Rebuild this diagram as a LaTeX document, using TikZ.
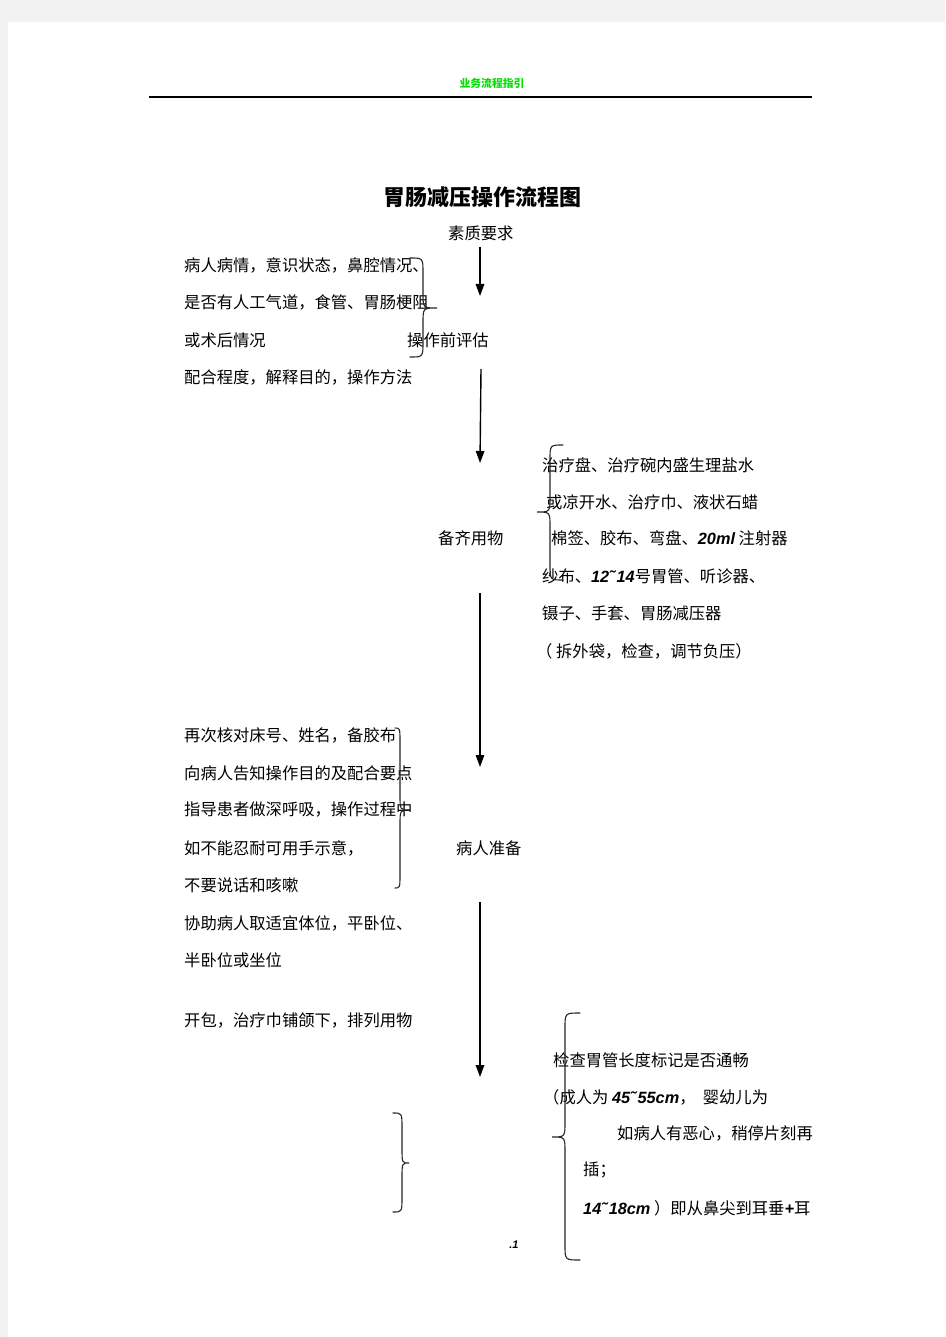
\documentclass[tikz,border=0pt]{standalone}
\usepackage{fontspec}
\setmainfont{Noto Sans CJK SC}
\newfontfamily\numfont{Liberation Sans}
\usetikzlibrary{arrows.meta}
\definecolor{hdrgreen}{RGB}{0,225,0}
\definecolor{pagegray}{RGB}{242,242,242}
\newcommand{\nm}[1]{{\numfont\bfseries\itshape #1}}
\newcommand{\tld}{{\char"02DC\relax}\kern2pt\relax}
\tikzset{
  txt/.style={anchor=west, inner sep=0pt, font=\fontsize{16.3}{18}\selectfont},
  flowarrow/.style={line width=1.4pt, -{Triangle[length=12pt,width=8.5pt]}},
  bracestroke/.style={line width=1.1pt, draw=black!85, line cap=round}
}
\newcommand{\bracegen}[6]{% x0 xv xt ytop ymid ybot
  \draw[bracestroke] (#1,#4) .. controls (#2,#4) .. (#2,#4+15)
    -- (#2,#5-15) .. controls (#2,#5) .. (#3,#5)
    .. controls (#2,#5) .. (#2,#5+15)
    -- (#2,#6-15) .. controls (#2,#6) .. (#1,#6);}
\begin{document}
\begin{tikzpicture}[x=1pt,y=-1pt]
\useasboundingbox (0,0) rectangle (945,1337);
\fill[pagegray] (0,0) rectangle (945,1337);
\fill[white] (8,22) rectangle (945,1337);
% header
\node[inner sep=0pt, text=hdrgreen, font=\fontsize{10.8}{12}\selectfont\bfseries] (hdr) at (492,83) {业务流程指引};
\coordinate (ruleL) at (149,97);
\coordinate (ruleR) at (812,97);
\draw[line width=1.2pt] (ruleL) -- (ruleR);
% title
\node[inner sep=0pt, font=\fontsize{22}{24}\selectfont\bfseries] (title) at (482,197) {胃肠减压操作流程图};
% step 1
\node[txt] (s1) at (448,233) {素质要求};
\coordinate (a1s) at (480,247);
\coordinate (a1e) at (480,296);
\draw[flowarrow] (a1s) -- (a1e);
% left block 1
\node[txt] (l1) at (184,265) {病人病情，意识状态，鼻腔情况、};
\node[txt] (l2) at (184,302) {是否有人工气道，食管、胃肠梗阻};
\node[txt] (l3) at (184,340) {或术后情况};
\node[txt] (l4) at (184,377) {配合程度，解释目的，操作方法};
\node[txt] (s2) at (407,340) {操作前评估};
\bracegen{410}{423}{437}{258}{308}{357}
% arrow 2
\coordinate (a2s) at (481,369);
\coordinate (a2e) at (480,463);
\draw[flowarrow] (a2s) -- (a2e);
% right block 2
\node[txt] (r1) at (542,465) {治疗盘、治疗碗内盛生理盐水};
\node[txt] (r2) at (546,502) {或凉开水、治疗巾、液状石蜡};
\node[txt] (r3) at (551,538) {棉签、胶布、弯盘、\nm{20ml} 注射器};
\node[txt] (r4) at (542,576) {纱布、\nm{12\tld 14}号胃管、听诊器、};
\node[txt] (r5) at (542,613) {镊子、手套、胃肠减压器};
\node[txt] (r6) at (536,651) {（ 拆外袋，检查，调节负压）};
\node[txt] (s3) at (438,538) {备齐用物};
\bracegen{563}{550}{537}{445}{512}{580}
% arrow 3
\coordinate (a3s) at (480,593);
\coordinate (a3e) at (480,767);
\draw[flowarrow] (a3s) -- (a3e);
% left block 3
\node[txt] (p1) at (184,735) {再次核对床号、姓名，备胶布};
\node[txt] (p2) at (184,773) {向病人告知操作目的及配合要点};
\node[txt] (p3) at (184,810) {指导患者做深呼吸，操作过程中};
\node[txt] (p4) at (184,848) {如不能忍耐可用手示意，};
\node[txt] (p5) at (184,885) {不要说话和咳嗽};
\node[txt] (p6) at (184,923) {协助病人取适宜体位，平卧位、};
\node[txt] (p7) at (184,960) {半卧位或坐位};
\node[txt] (p8) at (184,1020) {开包，治疗巾铺颌下，排列用物};
\node[txt] (s4) at (456,848) {病人准备};
\bracegen{395}{400}{410}{728}{810}{888}
% arrow 4
\coordinate (a4s) at (480,902);
\coordinate (a4e) at (480,1077);
\draw[flowarrow] (a4s) -- (a4e);
% right block 4
\node[txt] (q1) at (553,1060) {检查胃管长度标记是否通畅};
\node[txt] (q2) at (543,1097) {（成人为 \nm{45\tld 55cm}，\ \ 婴幼儿为};
\node[txt] (q3) at (617,1133) {如病人有恶心，稍停片刻再};
\node[txt] (q4) at (583,1170) {插；};
\node[txt] (q5) at (583,1208) {\nm{14\tld 18cm} ）即从鼻尖到耳垂\nm{+}耳};
\bracegen{580}{565}{552}{1013}{1137}{1260}
\bracegen{393}{402}{409}{1113}{1163}{1212}
% page number
\node[inner sep=0pt, font=\fontsize{11}{12}\selectfont] (pg) at (514,1245) {\nm{.1}};
\end{tikzpicture}
\end{document}
